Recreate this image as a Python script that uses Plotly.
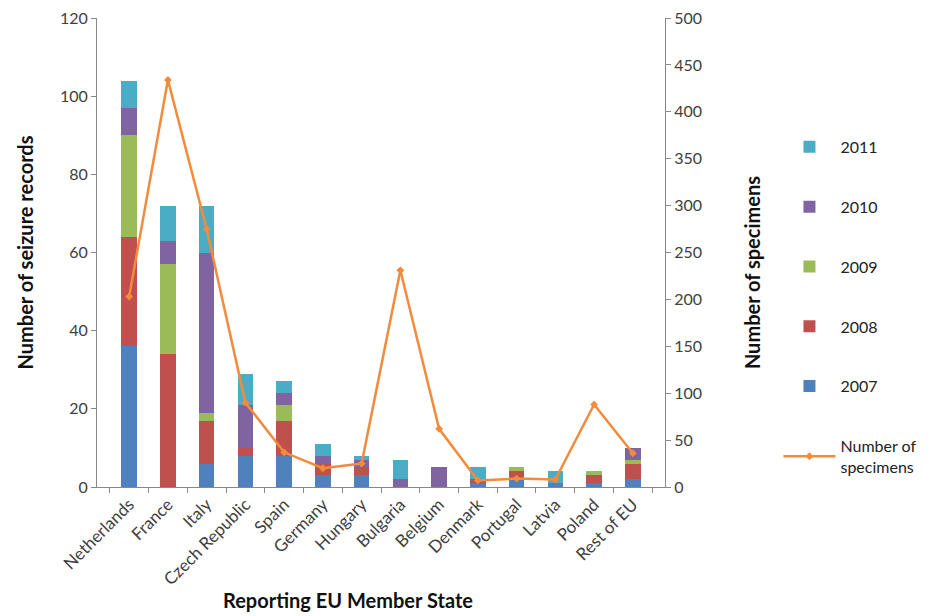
import plotly.graph_objects as go

# ---------------- data ----------------
states = ["Netherlands", "France", "Italy", "Czech Republic", "Spain", "Germany",
          "Hungary", "Bulgaria", "Belgium", "Denmark", "Portugal", "Latvia",
          "Poland", "Rest of EU"]

rec_2007 = [36, 0, 6, 8, 8, 3, 3, 0, 0, 1, 2, 1, 1, 2]
rec_2008 = [28, 34, 11, 2, 9, 3, 2, 0, 0, 1, 2, 0, 2, 4]
rec_2009 = [26, 23, 2, 0, 4, 0, 0, 0, 0, 0, 1, 0, 1, 1]
rec_2010 = [7, 6, 41, 11, 3, 2, 2, 2, 5, 0, 0, 0, 0, 3]
rec_2011 = [7, 9, 12, 8, 3, 3, 1, 5, 0, 3, 0, 3, 0, 0]

specimens = [203, 434, 275, 90, 37, 20, 25, 231, 62, 7, 9, 8, 88, 36]

years = ["2007", "2008", "2009", "2010", "2011"]
series = [rec_2007, rec_2008, rec_2009, rec_2010, rec_2011]
colours = ["#4F81BD", "#C0504D", "#9BBB59", "#8064A2", "#4BACC6"]

FONT = "Lato, 'Open Sans', sans-serif"

fig = go.Figure()

for i, (yr, vals, col) in enumerate(zip(years, series, colours)):
    fig.add_trace(
        go.Bar(
            x=states,
            y=vals,
            name=yr,
            marker=dict(color=col, line=dict(width=0)),
            width=0.4,
            legendgroup=yr,
            legendrank=5 - i,
        )
    )

fig.add_trace(
    go.Scatter(
        x=states,
        y=specimens,
        name="Number of<br>specimens",
        yaxis="y2",
        mode="lines+markers",
        line=dict(color="#F38B3C", width=2.5),
        marker=dict(symbol="diamond", size=6, color="#F38B3C"),
        legendgroup="spec",
        legendrank=6,
    )
)

# axis titles placed as annotations (the originals sit off-centre)
titles = [
    dict(text="<b>Reporting EU Member State</b>", x=0.442, y=-0.241,
         textangle=0),
    dict(text="<b>Number of specimens</b>", x=1.153, y=0.458,
         textangle=-90),
]
for t in titles:
    fig.add_annotation(
        text=t["text"], x=t["x"], y=t["y"], xref="paper", yref="paper",
        textangle=t["textangle"], showarrow=False,
        xanchor="center", yanchor="middle",
        font=dict(size=20, color="#111111"),
    )

fig.update_layout(
    barmode="stack",
    width=950,
    height=616,
    margin=dict(l=89, r=293, t=10, b=137),
    paper_bgcolor="white",
    plot_bgcolor="white",
    font=dict(family=FONT, size=16, color="#404040"),
    showlegend=True,
    legend=dict(
        xref="container",
        yref="container",
        x=0.811,
        y=0.802,
        xanchor="left",
        yanchor="top",
        tracegroupgap=36,
        maxheight=1,
        font=dict(size=16, color="#222222"),
        itemwidth=52,
    ),
    xaxis=dict(
        automargin=False,
        tickangle=-45,
        ticks="outside",
        tickson="boundaries",
        ticklen=5,
        tickcolor="#888888",
        showline=True,
        linecolor="#888888",
        linewidth=1,
        showgrid=False,
        tickfont=dict(size=17),
    ),
    yaxis=dict(
        title=dict(
            text="<b>Number of seizure records</b>",
            font=dict(size=20, color="#111111"),
            standoff=20,
        ),
        automargin=False,
        ticklabeloverflow="allow",
        range=[0, 120],
        dtick=20,
        ticks="outside",
        ticklen=5,
        tickcolor="#888888",
        showline=True,
        linecolor="#888888",
        linewidth=1,
        showgrid=False,
        zeroline=False,
    ),
    yaxis2=dict(
        automargin=False,
        ticklabeloverflow="allow",
        overlaying="y",
        side="right",
        range=[0, 500],
        dtick=50,
        ticks="outside",
        ticklen=5,
        tickcolor="#888888",
        showline=True,
        linecolor="#888888",
        linewidth=1,
        showgrid=False,
        zeroline=False,
    ),
)

fig.write_html("out.html")
